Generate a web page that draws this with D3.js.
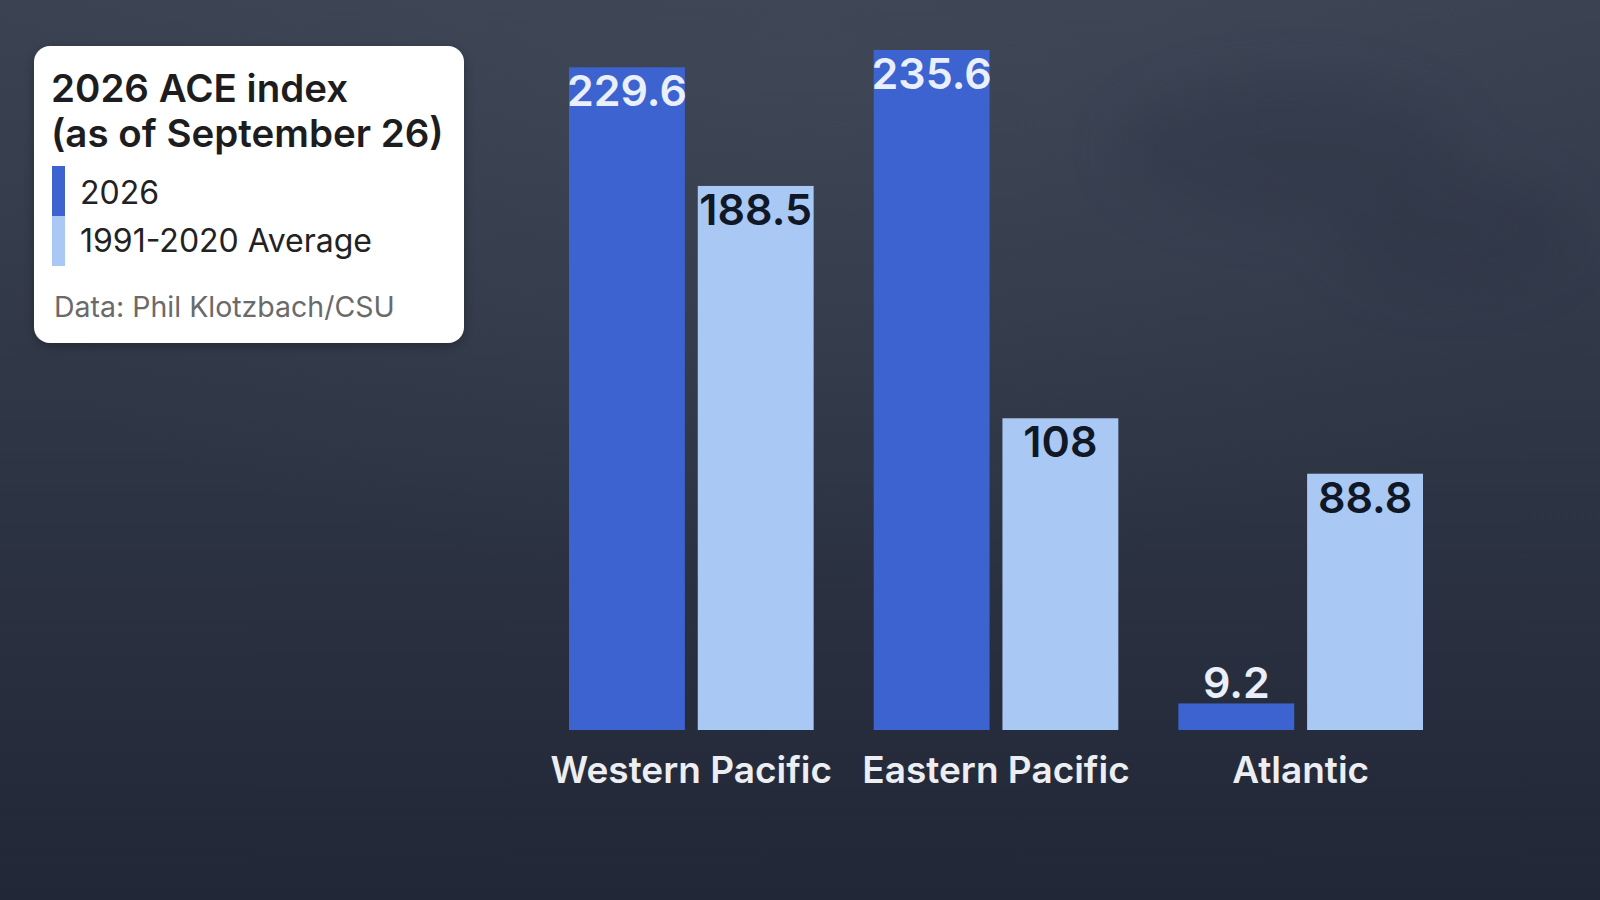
<!DOCTYPE html>
<html>
<head>
<meta charset="utf-8">
<script src="https://cdn.jsdelivr.net/npm/d3@7"></script>
<style>
  html, body { margin: 0; padding: 0; background: #2a3040; }
  svg { display: block; font-family: Inter, "Noto Sans", sans-serif; }
</style>
</head>
<body>
<svg id="chart" width="1600" height="900"></svg>
<script>
// ---- data ----
const categories = ["Western Pacific", "Eastern Pacific", "Atlantic"];
const seriesNames = ["2026", "1991-2020 Average"];
const values2026 = [229.6, 235.6, 9.2];
const valuesAverage = [188.5, 108, 88.8];
const valueLabels2026 = ["229.6", "235.6", "9.2"];
const valueLabelsAverage = ["188.5", "108", "88.8"];
const titleLines = ["2026 ACE index", "(as of September 26)"];
const sourceText = "Data: Phil Klotzbach/CSU";

const seriesColors = ["#3c63cf", "#aac8f4"];
const labelColors = ["#e9effb", "#101827"];

const svg = d3.select("#chart");
const W = 1600, H = 900;

// ---- background ----
const defs = svg.append("defs");
const bg = defs.append("linearGradient").attr("id", "bg").attr("x1", 0).attr("y1", 0).attr("x2", 0).attr("y2", 1);
bg.append("stop").attr("offset", "0%").attr("stop-color", "#3a4252");
bg.append("stop").attr("offset", "45%").attr("stop-color", "#2f3646");
bg.append("stop").attr("offset", "100%").attr("stop-color", "#212736");
svg.append("rect").attr("width", W).attr("height", H).attr("fill", "url(#bg)");

const glow = defs.append("radialGradient").attr("id", "glow").attr("cx", 0.5).attr("cy", 0.05).attr("r", 0.6);
glow.append("stop").attr("offset", "0%").attr("stop-color", "#4a5262").attr("stop-opacity", 0.35);
glow.append("stop").attr("offset", "100%").attr("stop-color", "#4a5262").attr("stop-opacity", 0);
svg.append("rect").attr("width", W).attr("height", H).attr("fill", "url(#glow)");

const blur = defs.append("filter").attr("id", "blur").attr("x", "-30%").attr("y", "-30%").attr("width", "160%").attr("height", "160%");
blur.append("feGaussianBlur").attr("stdDeviation", 25);
// faint palm silhouettes (decorative, very subtle)
const palms = svg.append("g").attr("filter", "url(#blur)").attr("fill", "#2b3243").attr("opacity", 0.35);
palms.append("ellipse").attr("cx", 1290).attr("cy", 150).attr("rx", 170).attr("ry", 70);
palms.append("ellipse").attr("cx", 1450).attr("cy", 230).attr("rx", 120).attr("ry", 60);

const shadow = defs.append("filter").attr("id", "shadow").attr("x", "-10%").attr("y", "-10%").attr("width", "120%").attr("height", "130%");
shadow.append("feDropShadow").attr("dx", 0).attr("dy", 3).attr("stdDeviation", 6).attr("flood-color", "#000").attr("flood-opacity", 0.3);

// ---- scales ----
const baseY = 730;
const x0 = d3.scaleBand().domain(categories).range([569, 1423]).paddingInner(0.197).paddingOuter(0);
const x1 = d3.scaleBand().domain(seriesNames).range([0, x0.bandwidth()]).paddingInner(0.1).paddingOuter(0);
const y = d3.scaleLinear().domain([0, d3.max(values2026.concat(valuesAverage))]).range([baseY, 50]);

const rows = categories.map((c, i) => ({
  cat: c,
  bars: [
    { s: seriesNames[0], v: values2026[i], label: valueLabels2026[i], idx: 0 },
    { s: seriesNames[1], v: valuesAverage[i], label: valueLabelsAverage[i], idx: 1 }
  ]
}));

const groups = svg.append("g").selectAll("g").data(rows).join("g")
  .attr("transform", d => `translate(${x0(d.cat)},0)`);

groups.selectAll("rect").data(d => d.bars).join("rect")
  .attr("x", d => x1(d.s))
  .attr("y", d => y(d.v))
  .attr("width", x1.bandwidth())
  .attr("height", d => baseY - y(d.v))
  .attr("fill", d => seriesColors[d.idx]);

groups.selectAll("text.val").data(d => d.bars).join("text")
  .attr("class", "val")
  .attr("x", d => x1(d.s) + x1.bandwidth() / 2)
  .attr("y", d => (baseY - y(d.v)) > 50 ? y(d.v) + 39 : y(d.v) - 5)
  .attr("text-anchor", "middle")
  .attr("font-size", 43)
  .attr("font-weight", 600)
  .attr("fill", d => ((baseY - y(d.v)) > 50 ? labelColors[d.idx] : labelColors[0]))
  .text(d => d.label);

// category axis labels
svg.append("g").selectAll("text").data(categories).join("text")
  .attr("x", d => x0(d) + x0.bandwidth() / 2)
  .attr("y", 783)
  .attr("text-anchor", "middle")
  .attr("font-size", 37)
  .attr("font-weight", 600)
  .attr("fill", "#eceef2")
  .text(d => d);

// ---- legend box ----
const lg = svg.append("g");
lg.append("rect").attr("x", 34).attr("y", 46).attr("width", 430).attr("height", 297)
  .attr("rx", 16).attr("fill", "#ffffff").attr("filter", "url(#shadow)");
lg.selectAll("text.title").data(titleLines).join("text")
  .attr("class", "title")
  .attr("x", 51).attr("y", (d, i) => 102 + i * 45)
  .attr("font-size", 38.5).attr("font-weight", 600).attr("fill", "#1d1d1f")
  .text(d => d);
lg.selectAll("rect.sw").data(seriesNames).join("rect")
  .attr("class", "sw")
  .attr("x", 52).attr("y", (d, i) => 166 + i * 50)
  .attr("width", 13).attr("height", 50)
  .attr("fill", (d, i) => seriesColors[i]);
lg.selectAll("text.item").data(seriesNames).join("text")
  .attr("class", "item")
  .attr("x", 80).attr("y", (d, i) => 204 + i * 48)
  .attr("font-size", 32).attr("font-weight", 400).attr("fill", "#222222")
  .text(d => d);
lg.append("text").attr("x", 54).attr("y", 317)
  .attr("font-size", 28.5).attr("font-weight", 400).attr("fill", "#6a6a6a")
  .text(sourceText);
</script>
</body>
</html>
